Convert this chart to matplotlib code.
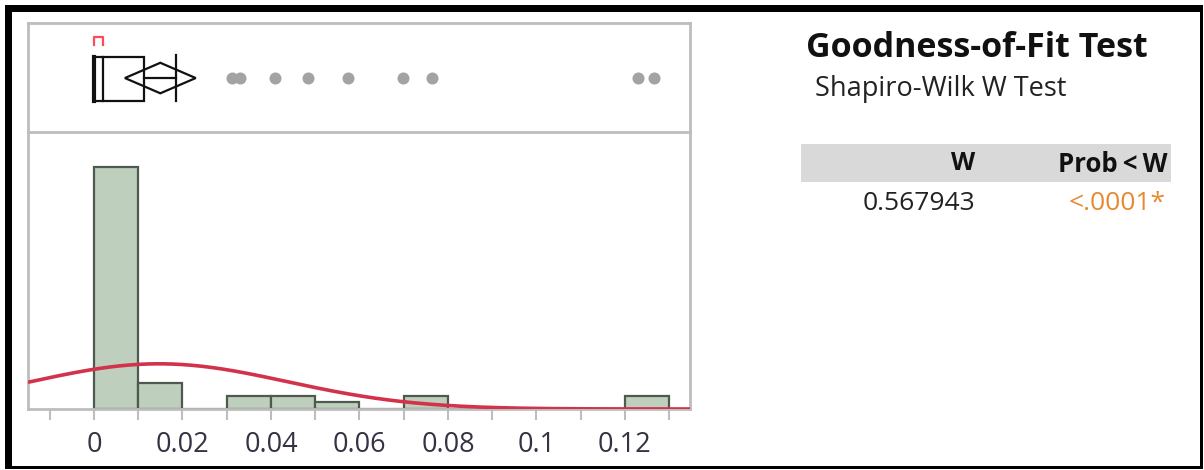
import numpy as np
import matplotlib.pyplot as plt
from matplotlib.patches import Rectangle, Polygon

plt.rcParams['font.family'] = ['Open Sans', 'DejaVu Sans']

# histogram bins (width 0.01) and counts
bin_edges = [0.00, 0.01, 0.02, 0.03, 0.04, 0.05, 0.06, 0.07, 0.08, 0.09, 0.10, 0.11, 0.12, 0.13]
bin_counts = [37, 4, 0, 2, 2, 1, 0, 2, 0, 0, 0, 0, 2]

# outlier box plot summary
q1, median, q3 = 0.0, 0.0020, 0.0113
whisker_lo, whisker_hi = 0.0, 0.0186
mean, mean_ci = 0.0150, 0.0080
outliers = [0.0312, 0.0330, 0.0409, 0.0484, 0.0574, 0.0698, 0.0764, 0.1229, 0.1266]
short_half = (0.0, 0.0020)

# fitted normal
n_obs = 50
fit_mu, fit_sigma = 0.0147, 0.0289

tick_vals = [0, 0.02, 0.04, 0.06, 0.08, 0.1, 0.12]
tick_text = ['0', '0.02', '0.04', '0.06', '0.08', '0.1', '0.12']

sw_w = '0.567943'
sw_p = '<.0001*'

W, H = 1204, 470
fig = plt.figure(figsize=(W / 100, H / 100), dpi=100)


def box(l, t, r, b):
    return [l / W, 1 - b / H, (r - l) / W, (b - t) / H]


frame = '#bdbdbd'
xlim = (-0.0149, 0.1347)

# histogram panel
ax = fig.add_axes(box(28, 132, 690, 409))
widths = np.diff(bin_edges)
ax.bar(bin_edges[:-1], bin_counts, width=widths, align='edge',
       color='#bfcfbd', edgecolor='#4f5a4f', linewidth=1.6, zorder=2)
xs = np.linspace(xlim[0], xlim[1], 400)
dens = n_obs * 0.01 / (fit_sigma * np.sqrt(2 * np.pi)) * np.exp(-0.5 * ((xs - fit_mu) / fit_sigma) ** 2)
ax.plot(xs, dens, color='#d2334b', lw=2.6, zorder=3, solid_capstyle='butt')
ax.set_xlim(*xlim)
ax.set_ylim(0, 42.3)
ax.set_yticks([])
ax.set_xticks(tick_vals)
ax.set_xticklabels(tick_text)
ax.set_xticks([-0.01, 0.01, 0.03, 0.05, 0.07, 0.09, 0.11, 0.13], minor=True)
ax.tick_params(axis='x', which='both', length=8, width=1.5, color=frame,
               labelsize=19.5, labelcolor='#333344', pad=8)
for s in ax.spines.values():
    s.set_color(frame)
    s.set_linewidth(2)
ax.spines['top'].set_visible(False)

# box plot panel
bx = fig.add_axes(box(28, 23, 690, 132))
bx.set_xlim(*xlim)
bx.set_ylim(0, 1)
bx.set_xticks([])
bx.set_yticks([])
for s in bx.spines.values():
    s.set_color(frame)
    s.set_linewidth(2)
yb, yt, ym = 0.284, 0.688, 0.495
bx.add_patch(Rectangle((q1, yb), q3 - q1, yt - yb, fill=False, ec='#111111', lw=1.6))
bx.plot([median, median], [yb, yt], color='#111111', lw=1.6)
bx.plot([q1, q1], [yb, yt], color='#111111', lw=3.0)
bx.plot([q3, whisker_hi], [ym, ym], color='#111111', lw=1.6)
bx.plot([whisker_hi, whisker_hi], [yb, yt + 0.02], color='#111111', lw=1.6)
bx.add_patch(Polygon([(mean - mean_ci, ym), (mean, ym + 0.14), (mean + mean_ci, ym),
                      (mean, ym - 0.14)], closed=True, fill=False, ec='#111111', lw=1.6))
bx.scatter(outliers, [ym] * len(outliers), s=75, color='#a3a3a3', zorder=3, linewidths=0)
bx.plot([short_half[0], short_half[0], short_half[1], short_half[1]],
        [0.80, 0.87, 0.87, 0.80], color='#ff4b57', lw=1.6)

# goodness-of-fit report
fig.text(806 / W, 1 - 48 / H, 'Goodness-of-Fit Test', fontsize=24.5, fontweight='bold',
         color='#111111', va='center', ha='left')
fig.text(815 / W, 1 - 89 / H, 'Shapiro-Wilk W Test', fontsize=19.5,
         color='#222222', va='center', ha='left')
fig.add_artist(Rectangle((801 / W, 1 - 182 / H), 370 / W, 38 / H,
                         transform=fig.transFigure, color='#d9d9d9', lw=0))
fig.text(975 / W, 1 - 164 / H, 'W', fontsize=18, fontweight='bold',
         color='#111111', va='center', ha='right')
fig.text(1168 / W, 1 - 164 / H, 'Prob\u2009<\u2009W', fontsize=18.5, fontweight='bold',
         color='#111111', va='center', ha='right')
fig.text(975 / W, 1 - 203 / H, sw_w, fontsize=19, color='#222222',
         va='center', ha='right')
fig.text(1166 / W, 1 - 203 / H, sw_p, fontsize=19, color='#e8892f',
         va='center', ha='right')

# outer border: heavy top/left, thin right/bottom
fig.add_artist(Rectangle((5 / W, 1 - 12 / H), 1198 / W, 7 / H, transform=fig.transFigure, color='black', lw=0))
fig.add_artist(Rectangle((5 / W, 1 - 469 / H), 7 / W, 464 / H, transform=fig.transFigure, color='black', lw=0))
fig.add_artist(Rectangle((1200 / W, 1 - 469 / H), 3 / W, 464 / H, transform=fig.transFigure, color='black', lw=0))
fig.add_artist(Rectangle((5 / W, 1 - 469 / H), 1198 / W, 3 / H, transform=fig.transFigure, color='black', lw=0))

fig.savefig('out.png', dpi=100)
